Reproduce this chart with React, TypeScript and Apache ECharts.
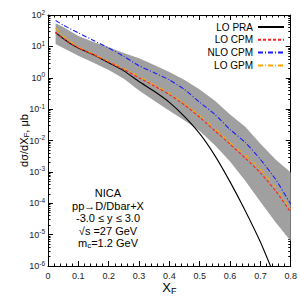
import React, { useEffect, useRef } from "react";
import * as echarts from "echarts";

const xs = [0.025, 0.05, 0.1, 0.15, 0.2, 0.25, 0.3, 0.35, 0.4, 0.45, 0.5, 0.55, 0.6, 0.65, 0.7, 0.75, 0.8];
const xsPRA = [0.025, 0.05, 0.075, 0.1, 0.15, 0.2, 0.25, 0.3, 0.35, 0.4, 0.45, 0.5, 0.55, 0.6, 0.65, 0.7, 0.75];
const loPRA = [27.5, 17.8, 12.0, 8.9, 5.4, 3.0, 1.66, 0.76, 0.37, 0.165, 0.058, 0.0165, 0.0033, 4.8e-4, 5.8e-5, 5.8e-6, 4.0e-7];
const loCPM = [28.2, 17.4, 9.1, 5.4, 3.16, 1.82, 1.0, 0.55, 0.29, 0.135, 0.055, 0.0204, 0.0076, 0.00275, 9.3e-4, 2.5e-4, 5.1e-5];
const nloCPM = [66.8, 47.9, 26.9, 15.5, 8.9, 4.8, 2.4, 1.45, 0.85, 0.42, 0.165, 0.068, 0.0224, 0.0087, 0.0025, 5.8e-4, 9.3e-5];
const loGPM = [38, 21.4, 9.5, 5.6, 3.3, 1.95, 1.1, 0.6, 0.32, 0.15, 0.062, 0.024, 0.0085, 0.0035, 0.0012, 3.2e-4, 6.5e-5];
const bandUpper = [55, 41.7, 21.4, 13.8, 9.3, 6.2, 4.2, 2.57, 1.52, 0.85, 0.42, 0.186, 0.068, 0.0275, 0.0079, 0.0025, 9.5e-4];
const bandLower = [12.0, 8.9, 5.0, 3.0, 1.78, 0.93, 0.39, 0.186, 0.088, 0.043, 0.02, 0.0071, 0.00214, 5.2e-4, 1.12e-4, 2.5e-5, 6.3e-6];
const annotation = ["NICA", "pp→D/Dbar+X", "-3.0 ≤ y ≤ 3.0", "√s =27 GeV", "m{sub|c}=1.2 GeV"];

const FONT = "Liberation Sans, Arial, sans-serif";

export default function App() {
  const ref = useRef<HTMLDivElement>(null);
  useEffect(() => {
    const chart = echarts.init(ref.current!, null, { renderer: "svg" });
    const pair = (x: number[], y: number[]) => x.map((v, i) => [v, y[i]]);
    const yLabel = (v: number) => `10{sup|${Math.round(Math.log10(v))}}`;
    const yRich = {
      sup: { fontSize: 6.5, fontFamily: FONT, color: "#222", padding: [0, 0, 6, 0] },
    };
    const xCommon = {
      type: "value",
      min: 0,
      max: 0.8,
      interval: 0.1,
      axisLine: { show: true, onZero: false, lineStyle: { color: "#000", width: 1 } },
      axisTick: { show: true, inside: true, length: 5, lineStyle: { color: "#000" } },
      minorTick: { show: true, splitNumber: 5, length: 2.5, lineStyle: { color: "#000" } },
      splitLine: { show: false },
    };
    const yCommon = {
      type: "log",
      min: 1e-6,
      max: 100,
      logBase: 10,
      axisLine: { show: true, onZero: false, lineStyle: { color: "#000", width: 1 } },
      axisTick: { show: true, inside: true, length: 5, lineStyle: { color: "#000" } },
      minorTick: { show: true, splitNumber: 9, length: 2.5, lineStyle: { color: "#000" } },
      splitLine: { show: false },
    };
    chart.setOption({
      animation: false,
      grid: { left: 48, right: 8, top: 15, bottom: 32 },
      legend: {
        orient: "vertical",
        right: 10,
        top: 17,
        align: "right",
        itemWidth: 26,
        itemHeight: 8,
        itemGap: 2.8,
        itemStyle: { opacity: 0 },
        textStyle: { fontSize: 10, fontFamily: FONT, color: "#000" },
        data: ["LO PRA", "LO CPM", "NLO CPM", "LO GPM"],
      },
      xAxis: [
        {
          ...xCommon,
          position: "bottom",
          name: "X{sub|F}",
          nameLocation: "middle",
          nameGap: 14,
          nameMoveOverlap: false,
          nameTextStyle: {
            fontSize: 13,
            fontFamily: FONT,
            color: "#000",
            rich: { sub: { fontSize: 9, fontFamily: FONT, color: "#000", padding: [6, 0, 0, 0] } },
          },
          axisLabel: {
            fontSize: 9,
            fontFamily: FONT,
            color: "#222",
            margin: 5,
            formatter: (v: number) => (v === 0 ? "0" : v.toFixed(1)),
          },
        },
        { ...xCommon, position: "top", axisLabel: { show: false } },
      ],
      yAxis: [
        {
          ...yCommon,
          position: "left",
          name: "dσ/dX{sub|F}, μb",
          nameLocation: "middle",
          nameRotate: 90,
          nameGap: 18,
          nameMoveOverlap: false,
          nameTextStyle: {
            fontSize: 11,
            fontFamily: FONT,
            color: "#000",
            rich: { sub: { fontSize: 8, fontFamily: FONT, color: "#000", padding: [5, 0, 0, 0] } },
          },
          axisLabel: {
            fontSize: 9,
            fontFamily: FONT,
            color: "#222",
            margin: 3,
            formatter: yLabel,
            rich: yRich,
          },
        },
        { ...yCommon, position: "right", axisLabel: { show: false } },
      ],
      series: [
        {
          type: "custom",
          name: "band",
          xAxisIndex: 0,
          yAxisIndex: 0,
          clip: true,
          silent: true,
          data: [[0.4, 1]],
          renderItem: (_p: any, api: any) => {
            const up = xs.map((x, i) => api.coord([x, bandUpper[i]]));
            const lo = xs.map((x, i) => api.coord([x, bandLower[i]])).reverse();
            return {
              type: "group",
              children: [
                {
                  type: "polygon",
                  shape: { points: up.concat(lo) },
                  style: { fill: "#a0a0a0", stroke: "none" },
                },
              ],
            };
          },
          z: 1,
        },
        {
          type: "line",
          name: "LO PRA",
          data: pair(xsPRA, loPRA),
          symbol: "none",
          smooth: 0.2,
          lineStyle: { color: "#000", width: 1.1, type: "solid" },
          itemStyle: { color: "#000" },
          z: 3,
        },
        {
          type: "line",
          name: "LO CPM",
          data: pair(xs, loCPM),
          symbol: "none",
          smooth: 0.2,
          lineStyle: { color: "#ff2020", width: 1.1, type: [3, 2] },
          itemStyle: { color: "#ff2020" },
          z: 4,
        },
        {
          type: "line",
          name: "NLO CPM",
          data: pair(xs, nloCPM),
          symbol: "none",
          smooth: 0.2,
          lineStyle: { color: "#1a1aff", width: 1.1, type: [5, 2, 1, 2] },
          itemStyle: { color: "#1a1aff" },
          z: 4,
        },
        {
          type: "line",
          name: "LO GPM",
          data: pair(xs, loGPM),
          symbol: "none",
          smooth: 0.2,
          lineStyle: { color: "#ffa500", width: 1.1, type: [5, 2, 1, 2] },
          itemStyle: { color: "#ffa500" },
          z: 3,
        },
      ],
      graphic: annotation.map((t, i) => ({
        type: "text",
        x: 108,
        y: 193 + i * 12.5,
        style: {
          text: t,
          fill: "#000",
          fontSize: 11,
          fontFamily: FONT,
          align: "center",
          verticalAlign: "middle",
          rich: { sub: { fontSize: 8, fontFamily: FONT, fill: "#000", padding: [5, 0, 0, 0] } },
        },
        z: 10,
      })),
    });
    return () => chart.dispose();
  }, []);
  return (
    <div
      ref={ref}
      style={{ position: "fixed", left: 0, top: 0, width: 300, height: 300, background: "#fff" }}
    />
  );
}
